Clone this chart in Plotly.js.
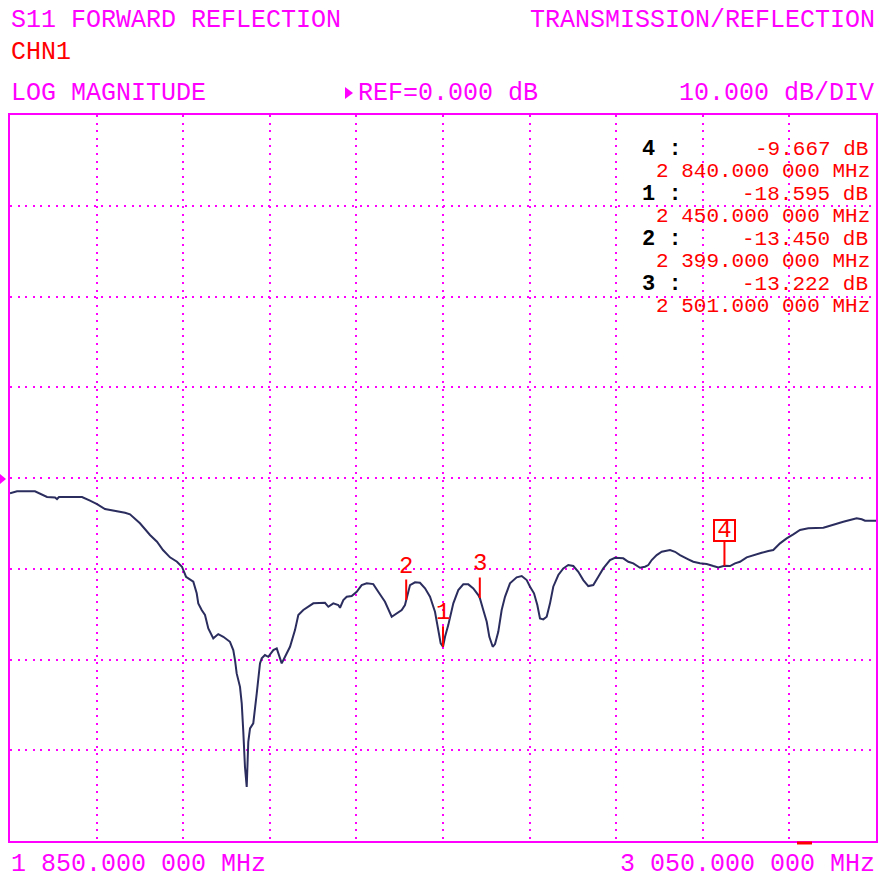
<!DOCTYPE html>
<html>
<head>
<meta charset="utf-8">
<script src="https://cdn.plot.ly/plotly-3.0.1.min.js"></script>
<style>
  html, body { margin: 0; padding: 0; background: #ffffff; }
  #chart { width: 879px; height: 882px; }
</style>
</head>
<body>
<div id="chart"></div>
<script>
// ---- data ----
const freqMHz = [
  1850.0,1859.7,1884.6,1895.7,1901.3,1912.4,1915.1,1917.9,1949.8,1960.9,
  1970.6,1981.6,1995.5,2009.4,2016.3,2030.1,2044.0,2053.7,2062.0,2071.7,
  2081.4,2088.3,2093.9,2104.0,2108.7,2110.9,2115.6,2120.2,2124.8,2131.7,
  2138.6,2145.6,2154.8,2159.4,2161.8,2164.1,2168.7,2171.1,2173.3,2175.6,
  2178.0,2180.2,2182.6,2187.1,2191.9,2194.1,2196.4,2198.8,2203.3,2207.9,
  2214.9,2219.6,2223.2,2226.5,2231.1,2238.0,2244.9,2249.5,2256.4,2263.3,
  2270.3,2286.5,2291.1,2298.0,2304.9,2307.3,2311.9,2316.6,2323.5,2330.4,
  2337.3,2344.3,2353.4,2360.3,2369.6,2378.9,2385.8,2392.8,2397.3,2399.0,
  2402.0,2404.3,2411.2,2418.1,2425.1,2432.0,2438.9,2443.5,2446.8,2450.0,
  2452.8,2457.3,2464.3,2471.2,2478.1,2485.1,2492.0,2498.9,2501.0,2505.8,
  2510.6,2514.2,2518.9,2522.1,2526.6,2531.3,2535.9,2542.8,2552.1,2559.1,
  2566.0,2570.6,2576.1,2580.7,2584.4,2589.0,2593.7,2598.3,2602.8,2609.8,
  2616.7,2623.6,2630.6,2637.5,2644.4,2651.3,2658.3,2665.2,2672.1,2681.4,
  2688.3,2699.8,2706.8,2713.7,2723.0,2729.9,2734.5,2739.2,2746.1,2753.1,
  2764.6,2771.5,2778.4,2789.9,2796.8,2806.1,2815.4,2824.6,2831.5,2840.0,
  2847.7,2854.6,2861.5,2870.8,2880.0,2891.6,2900.8,2907.7,2917.0,2926.2,
  2935.4,2944.7,2956.2,2977.0,2981.7,2988.6,2997.8,3004.7,3014.0,3023.2,
  3030.2,3034.8,3050.0
];
const s11dB = [
  -1.69,-1.47,-1.47,-1.87,-2.09,-2.15,-2.32,-2.09,-2.09,-2.50,
  -2.87,-3.42,-3.61,-3.83,-4.00,-4.99,-6.28,-7.02,-7.94,-8.74,
  -9.23,-9.78,-10.88,-11.43,-12.71,-13.81,-14.55,-15.10,-16.57,-17.67,
  -17.20,-17.50,-18.05,-18.96,-20.07,-21.53,-23.01,-24.84,-27.97,-31.83,
  -34.04,-29.07,-27.60,-27.04,-23.74,-21.91,-20.43,-19.88,-19.51,-19.70,
  -18.96,-18.78,-19.70,-20.43,-19.70,-18.60,-16.76,-15.10,-14.55,-14.19,
  -13.81,-13.75,-14.19,-13.81,-14.00,-14.30,-13.45,-13.09,-13.01,-12.54,
  -11.80,-11.61,-11.69,-12.54,-13.64,-15.29,-14.92,-14.55,-14.00,-13.45,
  -12.30,-11.80,-11.50,-11.54,-12.16,-13.09,-14.74,-16.76,-18.23,-18.60,
  -17.50,-16.21,-13.81,-12.35,-11.72,-11.72,-12.16,-12.90,-13.22,-14.55,
  -15.84,-17.50,-18.60,-18.30,-16.95,-14.55,-13.09,-11.61,-10.95,-10.80,
  -11.25,-11.98,-12.71,-14.00,-15.47,-15.58,-15.29,-13.81,-11.98,-10.69,
  -9.96,-9.59,-9.70,-10.33,-11.25,-11.91,-11.80,-10.88,-9.96,-9.04,
  -8.79,-8.85,-9.23,-9.40,-9.89,-9.78,-9.59,-9.04,-8.49,-8.13,
  -7.94,-8.13,-8.49,-8.96,-9.23,-9.40,-9.48,-9.70,-9.85,-9.67,
  -9.70,-9.40,-9.23,-8.74,-8.49,-8.24,-8.05,-7.94,-7.20,-6.65,
  -6.21,-5.73,-5.55,-5.48,-5.37,-5.18,-4.99,-4.82,-4.63,-4.44,
  -4.55,-4.71,-4.71
];
// markers, in readout order
const markerIds  = ['4', '1', '2', '3'];
const markerFreq = [2840, 2450, 2399, 2501];
const markerDb   = [-9.667, -18.595, -13.450, -13.222];

const startMHz = 1850, stopMHz = 3050;
const refDb = 0, dbPerDiv = 10, nDivY = 8, nDivX = 10;

const headerLeft  = 'S11 FORWARD REFLECTION';
const headerRight = 'TRANSMISSION/REFLECTION';
const channel     = 'CHN1';
const format      = 'LOG MAGNITUDE';
const refText     = 'REF=' + refDb.toFixed(3) + ' dB';
const scaleText   = dbPerDiv.toFixed(3) + ' dB/DIV';

// ---- helpers ----
function fmtFreq(f) {
  const th = Math.floor(f / 1000);
  const rest = String(Math.round(f % 1000)).padStart(3, '0');
  return th + ' ' + rest + '.000 000 MHz';
}
// pixel -> paper conversion for text placement (plot area 10..876 x 115..841)
const PL = 10, PR = 876, PT = 115, PB = 841;
const px = x => (x - PL) / (PR - PL);
const py = y => (PB - y) / (PB - PT);

const MAG = '#FF00FF', RED = '#FF0000';
const FONT = 'Liberation Mono, DejaVu Sans Mono, monospace';

const annotations = [];
function txt(text, x, y, anchor, size, color, extra) {
  annotations.push(Object.assign({
    text: text, xref: 'paper', yref: 'paper', x: px(x), y: py(y),
    xanchor: anchor, yanchor: 'middle', showarrow: false,
    font: {family: FONT, size: size, color: color}
  }, extra || {}));
}
txt(headerLeft, 9, 21, 'left', 25, MAG);
txt(headerRight, 877, 21, 'right', 25, MAG);
txt(channel, 9, 53, 'left', 25, RED);
txt(format, 9, 93, 'left', 25, MAG);
txt(refText, 356, 93, 'left', 25, MAG);
txt(scaleText, 876, 93, 'right', 25, MAG);
txt(fmtFreq(startMHz), 9, 865, 'left', 25, MAG);
txt(fmtFreq(stopMHz), 877, 865, 'right', 25, MAG);

// marker readouts
markerIds.forEach((id, i) => {
  const yc = 149 + i * 45.3;
  annotations.push({
    text: '<b>' + id + ' :</b>', xref: 'paper', yref: 'paper',
    x: px(640), y: py(yc), xanchor: 'left', yanchor: 'middle', showarrow: false,
    font: {family: FONT, size: 22, color: '#000000'}
  });
  txt(markerDb[i].toFixed(3) + ' dB', 870, yc, 'right', 21, RED);
  txt(fmtFreq(markerFreq[i]), 872, yc + 22, 'right', 21, RED);
});

// markers on trace
markerIds.forEach((id, i) => {
  const boxed = id === '4';
  annotations.push({
    text: id, x: markerFreq[i], y: markerDb[i], xref: 'x', yref: 'y',
    showarrow: true, arrowhead: 0, arrowwidth: 2, arrowcolor: RED,
    ax: 0, ay: boxed ? -35 : -34,
    font: {family: FONT, size: boxed ? 24 : 24, color: RED},
    bordercolor: boxed ? RED : 'rgba(0,0,0,0)', borderwidth: boxed ? 2 : 0,
    bgcolor: boxed ? '#ffffff' : 'rgba(0,0,0,0)',
    width: boxed ? 19 : undefined, height: boxed ? 19 : undefined,
    borderpad: 0
  });
});

const shapes = [
  // reference-level pointer at left edge
  {type: 'path', xref: 'paper', yref: 'paper',
   path: 'M ' + px(0) + ',' + py(474) + ' L ' + px(6) + ',' + py(479) + ' L ' + px(0) + ',' + py(484) + ' Z',
   fillcolor: MAG, line: {width: 0}},
  // small triangle before REF text
  {type: 'path', xref: 'paper', yref: 'paper',
   path: 'M ' + px(345) + ',' + py(87) + ' L ' + px(353) + ',' + py(93) + ' L ' + px(345) + ',' + py(99) + ' Z',
   fillcolor: MAG, line: {width: 0}},
  // small stimulus mark below bottom edge
  {type: 'line', xref: 'paper', yref: 'paper',
   x0: px(797), x1: px(812), y0: py(843), y1: py(843),
   line: {color: RED, width: 3}}
];

const trace = {
  x: freqMHz, y: s11dB, type: 'scatter', mode: 'lines',
  line: {color: '#2B2D5E', width: 2}, hoverinfo: 'skip'
};

const layout = {
  width: 879, height: 882, autosize: false,
  margin: {l: PL, r: 879 - PR, t: PT, b: 882 - PB, pad: 0},
  paper_bgcolor: '#ffffff', plot_bgcolor: '#ffffff',
  showlegend: false,
  xaxis: {
    range: [startMHz, stopMHz], tick0: startMHz, dtick: (stopMHz - startMHz) / nDivX,
    showgrid: true, gridcolor: MAG, gridwidth: 2, griddash: '2px,5.6px',
    zeroline: false, showticklabels: false, ticks: '',
    showline: true, mirror: true, linecolor: MAG, linewidth: 2, fixedrange: true
  },
  yaxis: {
    range: [refDb - dbPerDiv * nDivY / 2, refDb + dbPerDiv * nDivY / 2],
    tick0: refDb, dtick: dbPerDiv,
    showgrid: true, gridcolor: MAG, gridwidth: 2, griddash: '2px,5.6px',
    zeroline: false, showticklabels: false, ticks: '',
    showline: true, mirror: true, linecolor: MAG, linewidth: 2, fixedrange: true
  },
  annotations: annotations,
  shapes: shapes
};

Plotly.newPlot('chart', [trace], layout, {displayModeBar: false, staticPlot: true});
</script>
</body>
</html>
